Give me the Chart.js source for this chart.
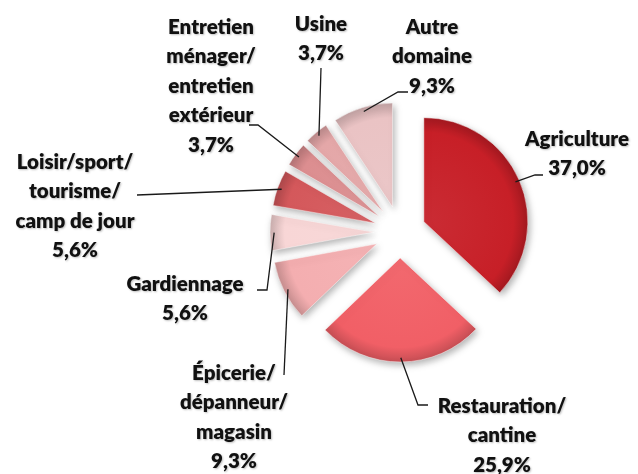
<!DOCTYPE html>
<html>
<head>
<meta charset="utf-8">
<script src="https://cdn.jsdelivr.net/npm/chart.js@4"></script>
<style>
  html, body { margin: 0; padding: 0; background: #fff; }
</style>
</head>
<body>
<canvas id="myChart" width="638" height="474"></canvas>
<script>
// Données du graphique
var categories = ['Agriculture', 'Restauration/cantine', 'Épicerie/dépanneur/magasin', 'Gardiennage',
  'Loisir/sport/tourisme/camp de jour', 'Entretien ménager/entretien extérieur', 'Usine', 'Autre domaine'];
var values = [37.0, 25.9, 9.3, 5.6, 5.6, 3.7, 3.7, 9.3];
var labelLines = [
  ['Agriculture'],
  ['Restauration/', 'cantine'],
  ['Épicerie/', 'dépanneur/', 'magasin'],
  ['Gardiennage'],
  ['Loisir/sport/', 'tourisme/', 'camp de jour'],
  ['Entretien', 'ménager/', 'entretien', 'extérieur'],
  ['Usine'],
  ['Autre', 'domaine']
];
var sliceColors = ['#c71f27', '#f15f66', '#f4aeb0', '#f8d6d6', '#d4585b', '#dc8e90', '#e4a7a8', '#eac3c4'];

// position des étiquettes (centre de la 1re ligne) et coudes des traits de rappel
var labelLayout = [
  { x: 577, y: 139, path: [[535, 175], [543, 175]] },
  { x: 502, y: 406, path: [[418, 405], [428, 405]] },
  { x: 234, y: 373, path: [[284, 375]] },
  { x: 185, y: 284, path: [[267, 290], [257, 290]] },
  { x: 75, y: 162, path: [[137, 195]] },
  { x: 211, y: 27, path: [[258, 125], [249, 125]] },
  { x: 321, y: 24, path: [[321, 68]] },
  { x: 432, y: 27, path: [[398, 92], [408, 92]] }
];

var explodeOffset = 26;
var lineHeight = 29.5;

function shade(hex, amt) {
  var n = parseInt(hex.slice(1), 16);
  var r = n >> 16, g = (n >> 8) & 255, b = n & 255;
  var t = amt < 0 ? 0 : 255, p = Math.abs(amt);
  r = Math.round(r + (t - r) * p);
  g = Math.round(g + (t - g) * p);
  b = Math.round(b + (t - b) * p);
  return 'rgb(' + r + ',' + g + ',' + b + ')';
}

function fmt(v) {
  return v.toFixed(1).replace('.', ',') + '%';
}

// éclater les parts + dégradé
var explodePlugin = {
  id: 'explode',
  afterDatasetUpdate: function(chart, args) {
    var ctx = chart.ctx;
    args.meta.data.forEach(function(arc, i) {
      var mid = (arc.startAngle + arc.endAngle) / 2;
      arc.x = arc.x + Math.cos(mid) * explodeOffset;
      arc.y = arc.y + Math.sin(mid) * explodeOffset;
      var c = sliceColors[i];
      var grad = ctx.createRadialGradient(arc.x, arc.y, 0, arc.x, arc.y, arc.outerRadius);
      grad.addColorStop(0, shade(c, 0.06));
      grad.addColorStop(0.86, c);
      grad.addColorStop(1, shade(c, -0.18));
      arc.options = Object.assign({}, arc.options, { backgroundColor: grad });
    });
  },
  beforeDatasetsDraw: function(chart) {
    var ctx = chart.ctx;
    ctx.save();
    ctx.shadowColor = 'rgba(0,0,0,0.3)';
    ctx.shadowBlur = 7;
    ctx.shadowOffsetX = 2;
    ctx.shadowOffsetY = 3;
  },
  afterDatasetsDraw: function(chart) {
    chart.ctx.restore();
  }
};

// étiquettes et traits de rappel
var labelPlugin = {
  id: 'sliceLabels',
  afterDraw: function(chart) {
    var ctx = chart.ctx;
    var arcs = chart.getDatasetMeta(0).data;
    ctx.save();
    arcs.forEach(function(arc, i) {
      var mid = (arc.startAngle + arc.endAngle) / 2;
      var ax = arc.x + Math.cos(mid) * arc.outerRadius * 0.96;
      var ay = arc.y + Math.sin(mid) * arc.outerRadius * 0.96;
      var lay = labelLayout[i];
      ctx.beginPath();
      ctx.moveTo(ax, ay);
      lay.path.forEach(function(p) { ctx.lineTo(p[0], p[1]); });
      ctx.strokeStyle = '#1a1a1a';
      ctx.lineWidth = 1.3;
      ctx.stroke();

      var lines = labelLines[i].concat([fmt(values[i])]);
      ctx.font = '800 20.5px Lato';
      ctx.fillStyle = '#111';
      ctx.textAlign = 'center';
      ctx.textBaseline = 'middle';
      ctx.shadowColor = 'rgba(0,0,0,0.25)';
      ctx.shadowBlur = 2;
      ctx.shadowOffsetX = 1;
      ctx.shadowOffsetY = 1;
      lines.forEach(function(t, k) {
        ctx.fillText(t, lay.x, lay.y + k * lineHeight);
      });
      ctx.shadowColor = 'transparent';
    });
    ctx.restore();
  }
};

var ctx = document.getElementById('myChart').getContext('2d');
var chart = new Chart(ctx, {
  type: 'pie',
  data: {
    labels: categories,
    datasets: [{
      data: values,
      backgroundColor: sliceColors,
      borderColor: 'rgba(255,255,255,0.45)',
      borderWidth: 1
    }]
  },
  options: {
    responsive: false,
    animation: false,
    events: [],
    radius: 104,
    layout: { padding: { left: 162, right: 0, top: 0, bottom: 10 } },
    plugins: {
      legend: { display: false },
      tooltip: { enabled: false }
    }
  },
  plugins: [explodePlugin, labelPlugin]
});
</script>
</body>
</html>
